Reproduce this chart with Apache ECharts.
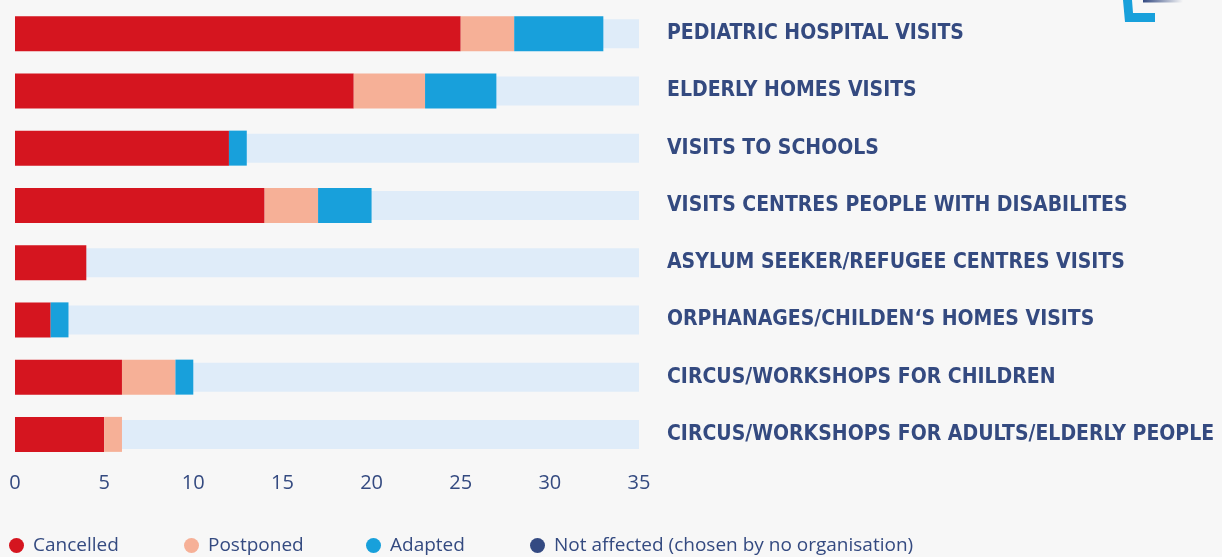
<!DOCTYPE html>
<html>
<head>
<meta charset="utf-8">
<script src="https://cdn.jsdelivr.net/npm/echarts@6/dist/echarts.min.js"></script>
<style>
html,body{margin:0;padding:0;background:#f7f7f7;}
#chart{width:1222px;height:557px;}
</style>
</head>
<body>
<div id="chart"></div>
<script>
// ---- data ----
const categories = [
  'PEDIATRIC HOSPITAL VISITS',
  'ELDERLY HOMES VISITS',
  'VISITS TO SCHOOLS',
  'VISITS CENTRES PEOPLE WITH DISABILITES',
  'ASYLUM SEEKER/REFUGEE CENTRES VISITS',
  'ORPHANAGES/CHILDEN\u2018S HOMES VISITS',
  'CIRCUS/WORKSHOPS FOR CHILDREN',
  'CIRCUS/WORKSHOPS FOR ADULTS/ELDERLY PEOPLE'
];
const cancelled   = [25, 19, 12, 14, 4, 2, 6, 5];
const postponed   = [3, 4, 0, 3, 0, 0, 3, 1];
const adapted     = [5, 4, 1, 3, 0, 1, 1, 0];
const notAffected = [0, 0, 0, 0, 0, 0, 0, 0];
const seriesNames = ['Cancelled', 'Postponed', 'Adapted', 'Not affected (chosen by no organisation)'];
const axisMax = 35;
const axisInterval = 5;
const trackValues = categories.map(() => axisMax);

// ---- styles ----
const colors = ['#d5151f', '#f6b097', '#18a0db', '#344a82'];
const textColor = '#344a80';
const trackColor = '#dfecf9';

const chart = echarts.init(document.getElementById('chart'));

function stackSeries(name, data, color) {
  return {
    name: name, type: 'bar', stack: 'total', xAxisIndex: 0, yAxisIndex: 0,
    data: data, barWidth: 35, z: 3,
    itemStyle: { color: color },
    emphasis: { disabled: true }
  };
}

const legendLefts = [9, 184, 366, 530];

chart.setOption({
  backgroundColor: '#f7f7f7',
  animation: false,
  grid: { left: 15, right: 583, top: 5, bottom: 94, containLabel: false, outerBoundsMode: 'none' },
  xAxis: {
    type: 'value', min: 0, max: axisMax, interval: axisInterval,
    axisLine: { show: false }, axisTick: { show: false }, splitLine: { show: false },
    axisLabel: { color: textColor, fontSize: 20, fontFamily: 'Open Sans', margin: 10 }
  },
  yAxis: [
    {
      type: 'category', data: categories, inverse: true, position: 'right',
      axisLine: { show: false }, axisTick: { show: false },
      axisLabel: {
        color: textColor, fontSize: 21, fontWeight: 'bold', margin: 28, align: 'left',
        fontFamily: '"DejaVu Sans Condensed", "DejaVu Sans", sans-serif'
      }
    },
    { type: 'category', data: categories, inverse: true, show: false }
  ],
  legend: legendLefts.map((l, i) => ({
    data: [seriesNames[i]], left: l, top: 536, padding: 0,
    icon: 'circle', itemWidth: 15, itemHeight: 15,
    textStyle: { color: textColor, fontSize: 19, fontFamily: 'Open Sans', padding: [0, 0, 0, 4] }
  })),
  series: [
    {
      name: 'track', type: 'bar', xAxisIndex: 0, yAxisIndex: 1,
      data: trackValues, barWidth: 29, z: 1, silent: true,
      itemStyle: { color: trackColor }
    },
    stackSeries(seriesNames[0], cancelled, colors[0]),
    stackSeries(seriesNames[1], postponed, colors[1]),
    stackSeries(seriesNames[2], adapted, colors[2]),
    stackSeries(seriesNames[3], notAffected, colors[3])
  ],
  graphic: [
    {
      type: 'rect', shape: { x: 1143, y: 0, width: 40, height: 2.5 },
      style: { fill: new echarts.graphic.LinearGradient(0, 0, 1, 0, [
        { offset: 0, color: '#344a82' }, { offset: 1, color: 'rgba(52,74,130,0)' }]) }
    },
    {
      type: 'polygon',
      shape: { points: [[1123, 0], [1132, 0], [1133, 13], [1155, 13], [1155, 22], [1125, 22]] },
      style: { fill: '#18a0db' }
    }
  ]
});
</script>
</body>
</html>
